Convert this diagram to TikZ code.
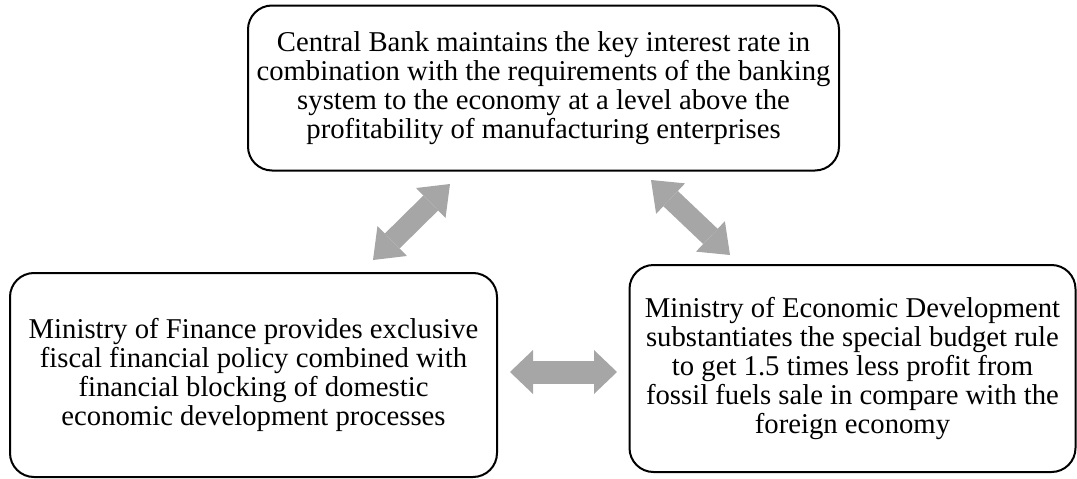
\documentclass[tikz,border=0pt]{standalone}
\usepackage{fontspec}
\setmainfont{Liberation Serif}
\usetikzlibrary{arrows.meta}
\definecolor{arrgray}{HTML}{A6A6A6}
\tikzset{
  box/.style={draw=black, line width=2pt, rounded corners=24pt, align=center,
    inner sep=0pt, font=\fontsize{28.7}{28.8}\selectfont},
}
\begin{document}
\begin{tikzpicture}[x=1pt,y=-1pt]
\useasboundingbox (0,0) rectangle (1077,479);
\node[box, minimum width=591pt, minimum height=165pt] (cb) at (543.5,88)
  {Central Bank maintains the key interest rate in\\
   combination with the requirements of the banking\\
   system to the economy at a level above the\\
   profitability of manufacturing enterprises};
\node[box, minimum width=487pt, minimum height=204pt] (mf) at (253.5,375)
  {Ministry of Finance provides exclusive\\
   fiscal financial policy combined with\\
   financial blocking of domestic\\
   economic development processes};
\node[box, minimum width=446pt, minimum height=207pt] (med) at (852.5,368.5)
  {Ministry of Economic Development\\
   substantiates the special budget rule\\
   to get 1.5 times less profit from\\
   fossil fuels sale in compare with the\\
   foreign economy};
\coordinate (a1) at (373,260);
\coordinate (a2) at (450,184);
\coordinate (b1) at (651,180);
\coordinate (b2) at (730,255);
\coordinate (c1) at (510,372);
\coordinate (c2) at (617,372);
\draw[draw=arrgray, line width=21pt,
  {Triangle[length=27pt,width=42pt,line width=0pt,fill=arrgray]}-{Triangle[length=27pt,width=42pt,line width=0pt,fill=arrgray]}]
  (a1) -- (a2);
\draw[draw=arrgray, line width=21pt,
  {Triangle[length=27pt,width=42pt,line width=0pt,fill=arrgray]}-{Triangle[length=27pt,width=42pt,line width=0pt,fill=arrgray]}]
  (b1) -- (b2);
\draw[draw=arrgray, line width=23pt,
  {Triangle[length=23pt,width=44pt,line width=0pt,fill=arrgray]}-{Triangle[length=23pt,width=44pt,line width=0pt,fill=arrgray]}]
  (c1) -- (c2);
\end{tikzpicture}
\end{document}
